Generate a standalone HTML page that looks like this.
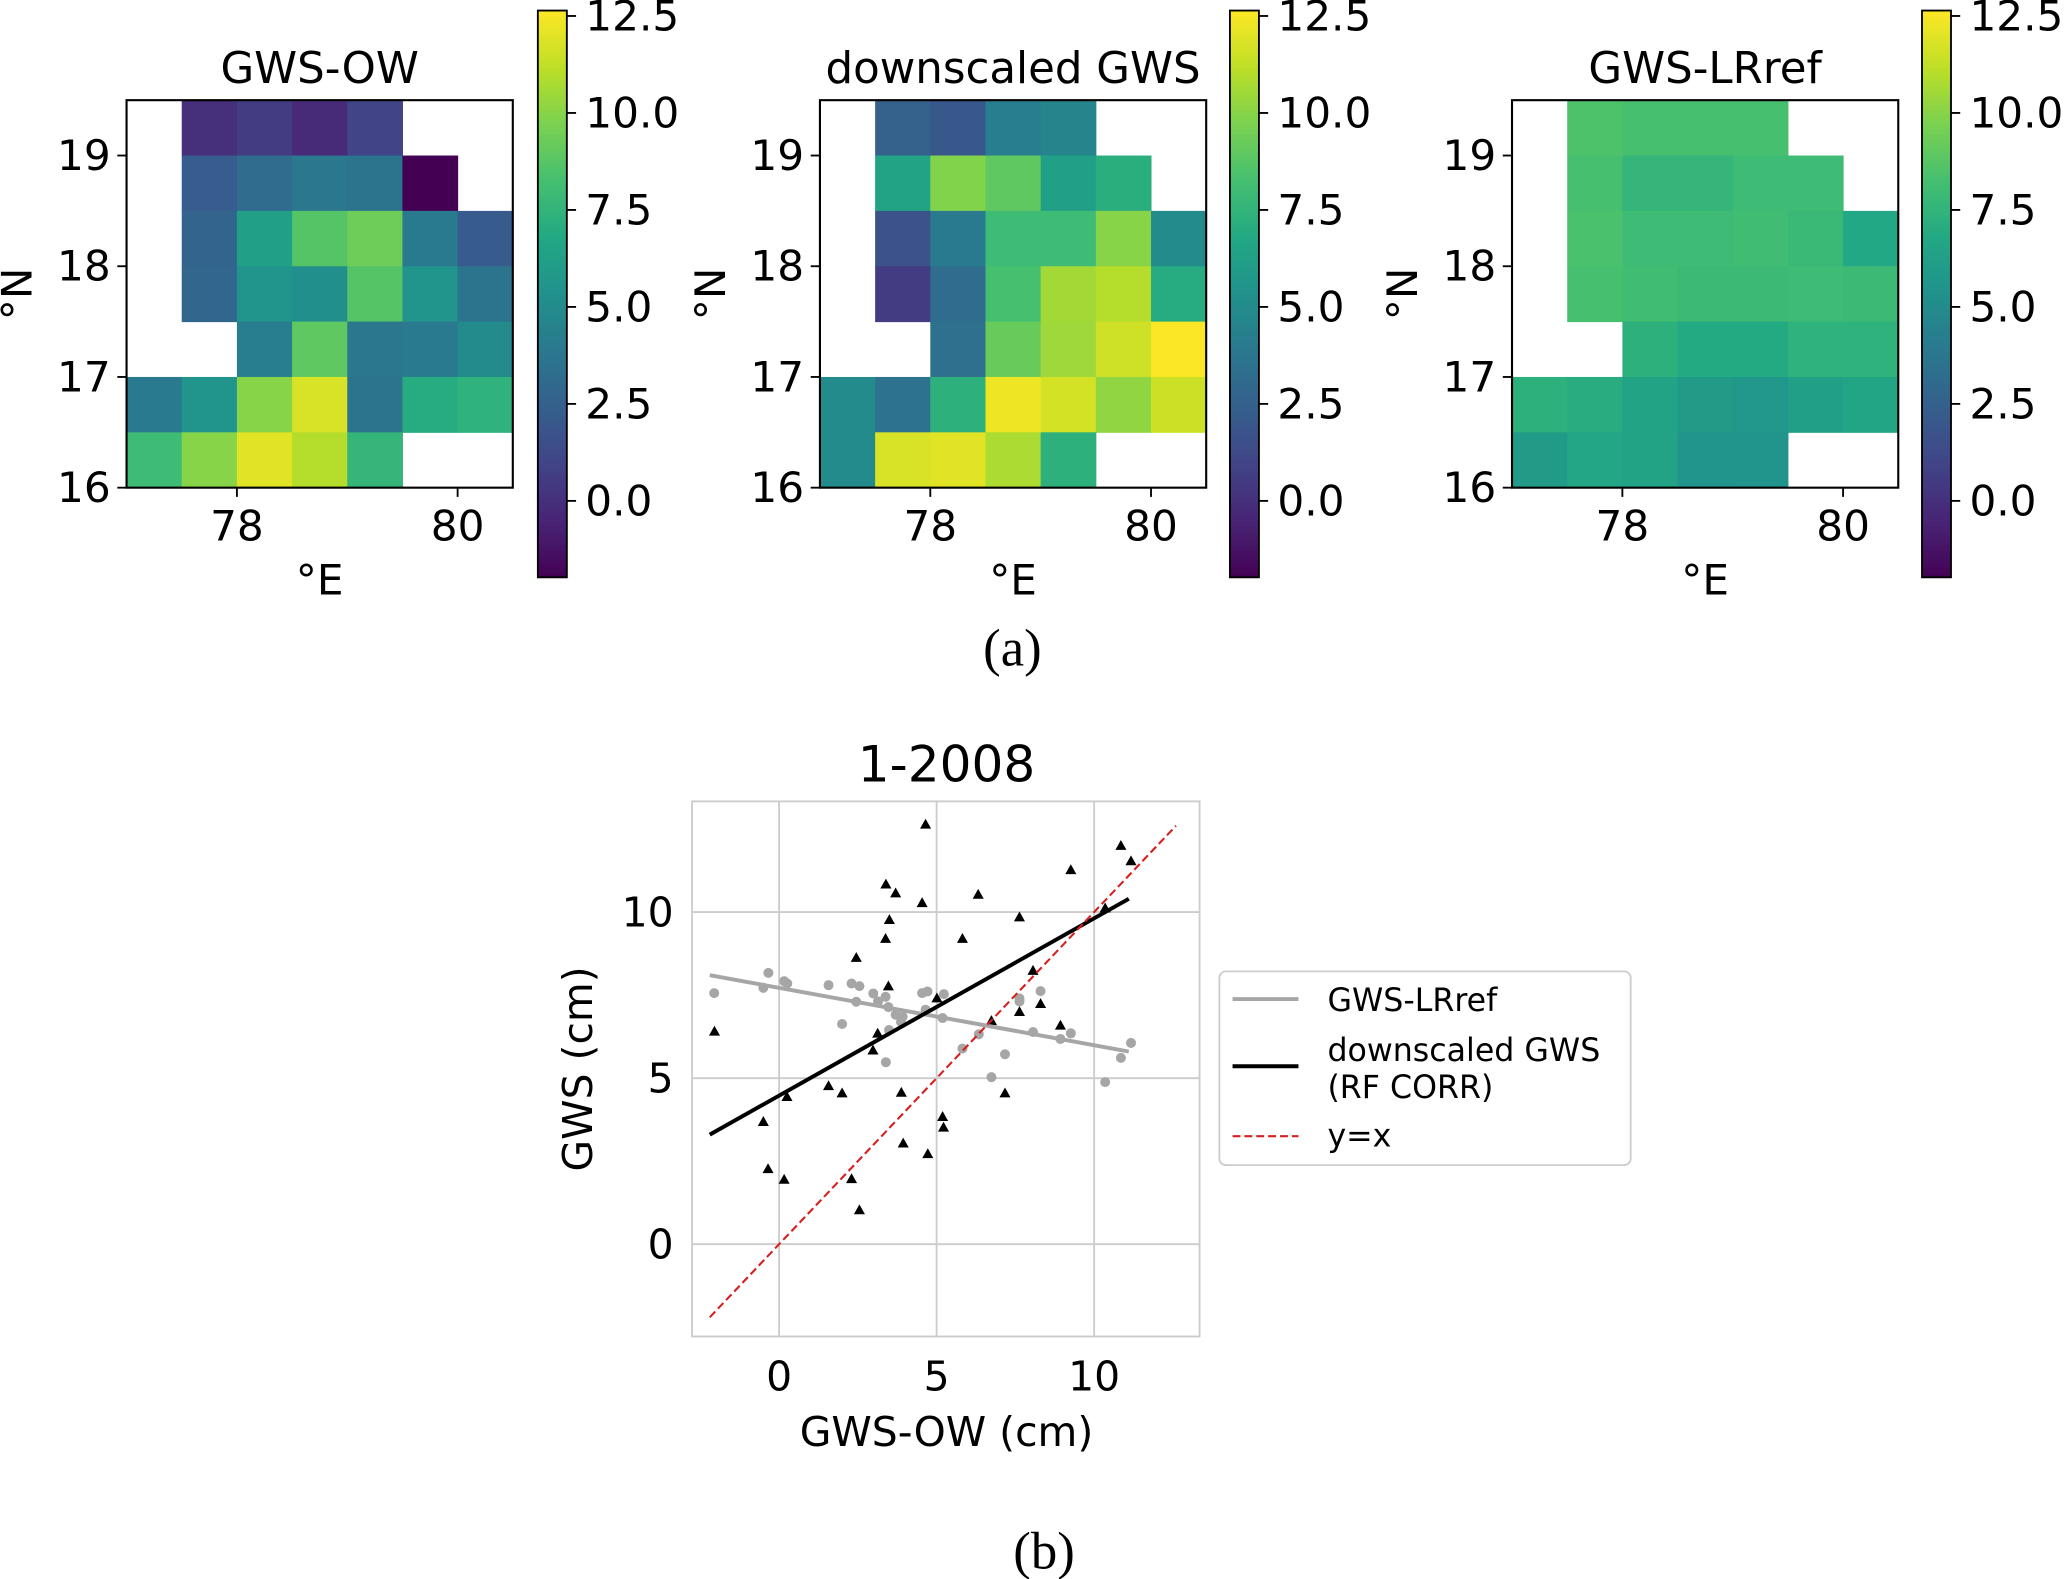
<!DOCTYPE html>
<html><head><meta charset="utf-8"><style>
html,body{margin:0;padding:0;background:#fff}
svg{display:block}
text{font-family:"DejaVu Sans","Liberation Sans",sans-serif;fill:#000}
text.serif{font-family:"Liberation Serif",serif}
</style></head><body>
<svg id="fig" xmlns="http://www.w3.org/2000/svg" width="2067" height="1579" viewBox="0 0 1568 1198" preserveAspectRatio="none"></svg>
<script>
// ---- data ----
const lonTicks = [78, 80];
const latTicks = [16, 17, 18, 19];
const cbTicks = [0, 2.5, 5, 7.5, 10, 12.5];
const cbTickLabels = ["0.0", "2.5", "5.0", "7.5", "10.0", "12.5"];
const panelTitles = ["GWS-OW", "downscaled GWS", "GWS-LRref"];
const N = null;
const gridOW = [
 [N,0.0,0.6,-0.2,1.0,N,N],
 [N,2.3,3.2,3.8,3.6,-2.0,N],
 [N,2.7,6.3,8.7,9.4,4.0,2.2],
 [N,2.8,5.5,5.3,8.7,5.5,3.6],
 [N,N,4.2,9.0,3.8,4.0,5.0],
 [4.0,5.6,10.0,11.8,3.6,7.0,7.4],
 [8.0,10.0,12.0,11.0,7.6,N,N]];
const gridDS = [
 [N,2.6,2.0,4.2,4.6,N,N],
 [N,6.5,9.9,9.0,6.3,7.2,N],
 [N,1.7,4.0,8.0,8.0,10.0,5.0],
 [N,0.6,3.2,8.3,10.6,11.0,7.0],
 [N,N,3.4,9.2,10.5,11.6,12.6],
 [5.0,3.5,7.3,12.3,11.7,10.2,11.5],
 [5.0,11.8,12.0,10.8,7.3,N,N]];
const gridLR = [
 [N,8.5,8.3,8.3,8.3,N,N],
 [N,8.3,7.6,7.6,8.0,8.0,N],
 [N,8.4,8.0,8.0,8.1,7.8,6.8],
 [N,8.3,8.1,7.9,7.9,8.0,7.9],
 [N,N,7.3,6.9,6.9,7.4,7.4],
 [7.3,7.1,6.5,6.0,5.8,6.3,6.6],
 [6.0,6.7,6.5,5.6,5.5,N,N]];
const triX = [4.65,3.39,3.70,4.54,3.50,3.38,2.45,5.82,6.32,7.63,9.26,10.85,11.17,10.35,8.06,3.47,5.01,8.30,7.63,6.74,8.93,-2.05,3.13,2.98,0.25,1.57,2.00,3.88,7.17,-0.50,5.19,5.22,3.94,4.72,-0.35,0.16,2.30,2.55];
const triY = [12.63,10.83,10.56,10.27,9.76,9.19,8.62,9.19,10.52,9.84,11.26,11.99,11.53,10.11,8.23,7.76,7.40,7.23,6.99,6.72,6.58,6.40,6.34,5.83,4.43,4.76,4.54,4.56,4.54,3.68,3.83,3.51,3.03,2.71,2.26,1.94,1.96,1.02];
const cirX = [-0.34,-2.06,-0.50,0.16,0.26,1.57,2.30,2.55,2.00,2.45,2.99,3.14,3.38,3.47,3.70,3.92,3.87,3.49,3.39,4.54,4.71,5.23,4.65,5.19,5.82,6.34,7.17,6.74,7.63,7.63,8.30,8.06,8.93,9.26,10.35,10.85,11.17];
const cirY = [8.17,7.56,7.72,7.92,7.85,7.80,7.85,7.77,6.63,7.30,7.55,7.31,7.45,7.14,6.91,6.85,6.69,6.45,5.48,7.56,7.61,7.53,7.06,6.81,5.89,6.32,5.72,5.03,7.40,7.31,7.62,6.39,6.18,6.35,4.88,5.61,6.06];
const fitLR = [[-2.2,8.1],[11.1,5.8]];
const fitDS = [[-2.2,3.3],[11.1,10.4]];
const lineYX = [-2.2,12.6];
const scXTicks = [0,5,10];
const scYTicks = [0,5,10];

// ---- helpers ----
const svg = document.getElementById('fig');
const NS = 'http://www.w3.org/2000/svg';
function mk(tag, attrs, parent){const e=document.createElementNS(NS,tag);for(const k in attrs)e.setAttribute(k,attrs[k]);(parent||svg).appendChild(e);return e;}
function txt(x,y,s,size,anchor,parent,extra){const t=mk('text',Object.assign({x:x,y:y,'font-size':size,'text-anchor':anchor||'middle'},extra||{}),parent);t.textContent=s;return t;}
const VIR=[[68,1,84],[72,36,117],[65,68,135],[53,95,141],[42,120,142],[33,145,140],[34,168,132],[68,191,112],[122,209,81],[189,223,38],[253,231,37]];
const VMIN=-1.97, VMAX=12.64;
function vir(v){let t=(v-VMIN)/(VMAX-VMIN);t=Math.max(0,Math.min(1,t));const f=t*(VIR.length-1);const i=Math.min(VIR.length-2,Math.floor(f));const r=f-i;const c=VIR[i].map((a,j)=>Math.round(a+(VIR[i+1][j]-a)*r));return 'rgb('+c.join(',')+')';}

// ---- heatmap panels ----
const panels=[{x0:96,grid:gridOW,cb:408},{x0:622,grid:gridDS,cb:933},{x0:1147,grid:gridLR,cb:1458}];
const names=['gws-ow','downscaled-gws','gws-lrref'];
panels.forEach((p,pi)=>{
  const g=mk('g',{});
  
  
  const W=293,top=76,H=294;
  const xs=lon=>p.x0+(lon-77.0)/3.5*W;
  const ys=lat=>top+(19.5-lat)/3.5*H;
  p.grid.forEach((row,ri)=>row.forEach((v,ci)=>{
    if(v===null)return;
    const lon=77+ci*0.5, lat=19.5-ri*0.5;
    const r=mk('rect',{x:xs(lon),y:ys(lat),width:xs(lon+0.5)-xs(lon)+0.4,height:ys(lat-0.5)-ys(lat)+0.4,fill:vir(v)},g);
    
    
  }));
  mk('rect',{x:p.x0,y:top,width:W,height:H,fill:'none',stroke:'#000','stroke-width':1.6},g);
  lonTicks.forEach(l=>{mk('line',{x1:xs(l),x2:xs(l),y1:top+H,y2:top+H+7,stroke:'#000','stroke-width':1.4},g);
    const t=txt(xs(l),top+H+40,String(l),32,'middle',g);});
  latTicks.forEach(l=>{mk('line',{x1:p.x0-7,x2:p.x0,y1:ys(l),y2:ys(l),stroke:'#000','stroke-width':1.4},g);
    const t=txt(p.x0-12,ys(l)+11,String(l),32,'end',g);});
  const tt=txt(p.x0+W/2,63,panelTitles[pi],33,'middle',g);
  
  const xl=txt(p.x0+W/2,451,'°E',32,'middle',g);
  
  const yl=txt(0,0,'°N',32,'middle',g,{transform:'translate('+(p.x0-72)+','+(top+H/2)+') rotate(-90)'});
  
  // colorbar
  const cbg=mk('g',{},g);
  
  
  const cbTop=8,cbBot=438;
  const cy=v=>cbBot-(v-VMIN)/(VMAX-VMIN)*(cbBot-cbTop);
  const n=120;
  for(let i=0;i<n;i++){const v0=VMIN+(VMAX-VMIN)*i/n;mk('rect',{x:p.cb,y:cy(v0+(VMAX-VMIN)/n),width:22,height:(cbBot-cbTop)/n+0.6,fill:vir(v0+(VMAX-VMIN)/(2*n))},cbg);}
  mk('rect',{x:p.cb,y:cbTop,width:22,height:cbBot-cbTop,fill:'none',stroke:'#000','stroke-width':1.4},cbg);
  cbTicks.forEach((v,i)=>{mk('line',{x1:p.cb+22,x2:p.cb+29,y1:cy(v),y2:cy(v),stroke:'#000','stroke-width':1.4},cbg);
    txt(p.cb+36,cy(v)+11,cbTickLabels[i],32,'start',cbg);});
});
const la=txt(768,505,'(a)',40,'middle',null,{'class':'serif'});


// ---- scatter ----
const sg=mk('g',{});


const L=525,R=910,T=608,B=1014;
const sx=v=>591+v*23.9;
const sy=v=>944-v*25.2;
mk('rect',{x:L,y:T,width:R-L,height:B-T,fill:'#fff',stroke:'#ccc','stroke-width':1.4},sg);
scXTicks.forEach(v=>{mk('line',{x1:sx(v),x2:sx(v),y1:T,y2:B,stroke:'#ccc','stroke-width':1.4},sg);
  const t=txt(sx(v),B+41,String(v),31,'middle',sg);});
scYTicks.forEach(v=>{mk('line',{x1:L,x2:R,y1:sy(v),y2:sy(v),stroke:'#ccc','stroke-width':1.4},sg);
  const t=txt(L-14,sy(v)+11,String(v),31,'end',sg);});
cirX.forEach((x,i)=>{const c=mk('circle',{cx:sx(x),cy:sy(cirY[i]),r:3.8,fill:'#a6a6a6'},sg);
  });
triX.forEach((x,i)=>{const X=sx(x),Y=sy(triY[i]);const t=mk('polygon',{points:(X)+','+(Y-4.5)+' '+(X-4.2)+','+(Y+3)+' '+(X+4.2)+','+(Y+3),fill:'#000'},sg);
  });
const l1=mk('line',{x1:sx(fitLR[0][0]),y1:sy(fitLR[0][1]),x2:sx(fitLR[1][0]),y2:sy(fitLR[1][1]),stroke:'#a6a6a6','stroke-width':3},sg);

const l2=mk('line',{x1:sx(fitDS[0][0]),y1:sy(fitDS[0][1]),x2:sx(fitDS[1][0]),y2:sy(fitDS[1][1]),stroke:'#000','stroke-width':3},sg);

const l3=mk('line',{x1:sx(lineYX[0]),y1:sy(lineYX[0]),x2:sx(lineYX[1]),y2:sy(lineYX[1]),stroke:'#d62020','stroke-width':1.6,'stroke-dasharray':'6,3'},sg);

const st=txt(718,593,'1-2008',38,'middle',sg);
const sxl=txt(718,1097,'GWS-OW (cm)',31,'middle',sg);
const syl=txt(0,0,'GWS (cm)',31,'middle',sg,{transform:'translate(449,811) rotate(-90)'});

// legend
const lg=mk('g',{});


mk('rect',{x:925,y:737,width:312,height:147,rx:5,fill:'#fff',stroke:'#ccc','stroke-width':1.4},lg);
mk('line',{x1:935,x2:985,y1:758,y2:758,stroke:'#a6a6a6','stroke-width':3},lg);
txt(1007,767,'GWS-LRref',24,'start',lg);
mk('line',{x1:935,x2:985,y1:809,y2:809,stroke:'#000','stroke-width':3},lg);
txt(1007,805,'downscaled GWS',24,'start',lg);
txt(1007,833,'(RF CORR)',24,'start',lg);
mk('line',{x1:935,x2:985,y1:862,y2:862,stroke:'#d62020','stroke-width':1.6,'stroke-dasharray':'6,3'},lg);
txt(1007,870,'y=x',24,'start',lg);

const lb=txt(792,1190,'(b)',40,'middle',null,{'class':'serif'});

</script>
</body></html>
